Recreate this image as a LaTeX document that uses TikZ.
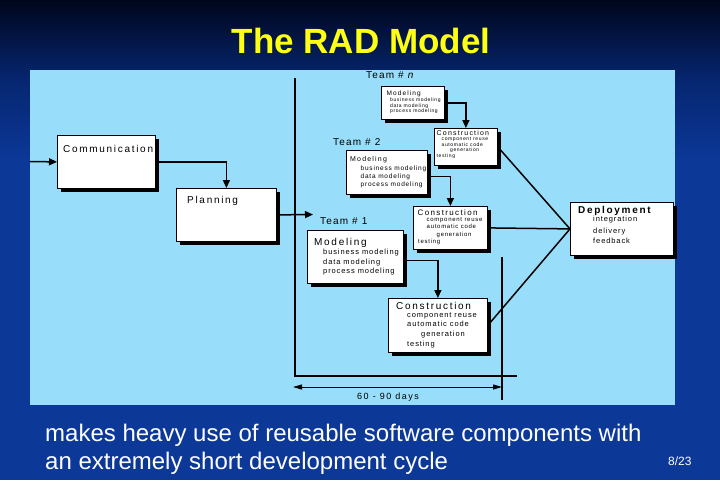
\documentclass[tikz,border=0pt]{standalone}
\usepackage{fontspec}
\setmainfont{Liberation Sans}
\newfontfamily\spf[LetterSpace=17]{Liberation Sans}
\newfontfamily\sps[LetterSpace=12]{Liberation Sans}
\usetikzlibrary{arrows.meta,shadows}
\definecolor{bgtop}{RGB}{0,6,28}
\definecolor{bgmid}{RGB}{6,38,112}
\definecolor{bgbot}{RGB}{12,56,152}
\definecolor{panel}{RGB}{152,222,250}
\definecolor{ttl}{RGB}{255,255,20}
\tikzset{
  box/.style={draw=black, fill=white, line width=0.8pt, rectangle, inner sep=0pt,
    anchor=north west, drop shadow={fill=black, opacity=1, shadow xshift=4pt, shadow yshift=-4pt}},
  conn/.style={line width=1.5pt},
  arr/.style={conn, -{Triangle[length=8pt,width=7pt]}},
  txt/.style={anchor=base west, inner sep=0pt},
  hdr/.style={txt, font=\spf\fontsize{#1}{#1}\selectfont},
  hdr/.default=10,
  subl/.style={txt, font=\sps\fontsize{#1}{#1}\selectfont},
  subl/.default=7.5,
  team/.style={txt, font=\sps\fontsize{10}{10}\selectfont}
}
\begin{document}
\begin{tikzpicture}[x=1pt,y=-1pt]
\useasboundingbox (0,0) rectangle (720,480);
% background
\fill[top color=bgtop, bottom color=bgbot, middle color=bgmid] (0,0) rectangle (720,160);
\fill[bgbot] (0,160) rectangle (720,480);
\fill[panel] (30,70) rectangle (675,405);

% title and caption
\node[anchor=base, inner sep=0pt, text=ttl, font=\bfseries\fontsize{35}{40}\selectfont] (title) at (361,53) {The RAD Model};
\node[txt, text=white, font=\fontsize{24}{28}\selectfont] (cap1) at (45,441) {makes heavy use of reusable software components with};
\node[txt, text=white, font=\fontsize{24}{28}\selectfont] (cap2) at (45,469) {an extremely short development cycle};
\node[txt, text=white, font=\fontsize{12}{14}\selectfont] (page) at (668,465) {8/23};

% boxes
\node[box, minimum width=98pt, minimum height=53pt] (comm) at (57,135) {};
\node[box, minimum width=100pt, minimum height=53pt] (plan) at (176,188) {};
\node[box, minimum width=63pt, minimum height=33pt] (modn) at (381,86) {};
\node[box, minimum width=63pt, minimum height=37pt] (consn) at (434,128) {};
\node[box, minimum width=81pt, minimum height=44pt] (mod2) at (346,150) {};
\node[box, minimum width=74pt, minimum height=43pt] (cons2) at (413,206) {};
\node[box, minimum width=96pt, minimum height=53pt] (mod1) at (307,230) {};
\node[box, minimum width=99pt, minimum height=54pt] (cons1) at (388,298) {};
\node[box, minimum width=103pt, minimum height=53pt] (dep) at (570,202) {};

% box texts
\node[hdr] (comm-t) at (63,152) {Communication};
\node[hdr] (plan-t) at (187,203) {Planning};

\node[hdr=6.5] (modn-t) at (386.5,95.5) {Modeling};
\node[subl=5] (modn-a) at (390,101.5) {business modeling};
\node[subl=5] (modn-b) at (390,107) {data modeling};
\node[subl=5] (modn-c) at (390,112.5) {process modeling};

\node[hdr=7] (consn-t) at (436.5,135) {Construction};
\node[subl=5] (consn-a) at (441.5,140.5) {component reuse};
\node[subl=5] (consn-b) at (441.5,146) {automatic code};
\node[subl=5] (consn-c) at (450,151.5) {generation};
\node[subl=5] (consn-d) at (436.5,157.5) {testing};

\node[hdr=7] (mod2-t) at (350,161) {Modeling};
\node[subl=6.5] (mod2-a) at (360.5,170) {business modeling};
\node[subl=6.5] (mod2-b) at (360.5,178) {data modeling};
\node[subl=6.5] (mod2-c) at (360.5,186.5) {process modeling};

\node[hdr=8] (cons2-t) at (417.5,215) {Construction};
\node[subl=6] (cons2-a) at (426.5,221.5) {component reuse};
\node[subl=6] (cons2-b) at (426.5,228.5) {automatic code};
\node[subl=6] (cons2-c) at (436.5,236.5) {generation};
\node[subl=6] (cons2-d) at (418,243.5) {testing};

\node[hdr] (mod1-t) at (314,245) {Modeling};
\node[subl] (mod1-a) at (323,254) {business modeling};
\node[subl] (mod1-b) at (323,264) {data modeling};
\node[subl] (mod1-c) at (323,273.5) {process modeling};

\node[hdr] (cons1-t) at (396,309.5) {Construction};
\node[subl] (cons1-a) at (407,317) {component reuse};
\node[subl] (cons1-b) at (407,326.5) {automatic code};
\node[subl] (cons1-c) at (421,336.5) {generation};
\node[subl] (cons1-d) at (407,346.5) {testing};

\node[hdr, font=\spf\bfseries\fontsize{10}{10}\selectfont] (dep-t) at (578,213) {Deployment};
\node[subl] (dep-a) at (593,221) {integration};
\node[subl] (dep-b) at (593,233) {delivery};
\node[subl] (dep-c) at (593,243) {feedback};

% team labels
\node[team] (teamn) at (366,78) {Team \# \textit{n}};
\node[team] (team2) at (333,145.5) {Team \# 2};
\node[team] (team1) at (320,224) {Team \# 1};

% connectors
\coordinate (in) at (30,161.5);
\draw[arr] (in) -- (comm.west);
\draw[arr] (comm.east) -| (plan.north);
\coordinate (pe) at (313,214.5);
\draw[arr] (plan.east) -- (pe);
\draw[arr] (modn.east) -| (consn.north);
\draw[arr] ([yshift=-4pt]mod2.east) -| (cons2.north);
\draw[arr] ([yshift=-3.5pt]mod1.east) -| (cons1.north);
\draw[conn] (consn.east) -- (dep.west);
\draw[conn] (cons2.east) -- (dep.west);
\draw[conn] (cons1.east) -- (dep.west);

% time frame
\coordinate (vt) at (295,78);
\coordinate (vb) at (295,376);
\coordinate (hr) at (517,376);
\draw[line width=2pt] (vt) -- (vb) -- (hr);
\coordinate (rt) at (502,257);
\coordinate (rb) at (502,400);
\draw[line width=1.5pt] (rt) -- (rb);
\coordinate (dl) at (293,387);
\coordinate (dr) at (502,387);
\draw[line width=1pt, {Triangle[length=9pt,width=5pt]}-{Triangle[length=9pt,width=5pt]}] (dl) -- (dr);
\node[txt, font=\spf\fontsize{9}{9}\selectfont] (days) at (357,399) {60 - 90 days};
\end{tikzpicture}
\end{document}
